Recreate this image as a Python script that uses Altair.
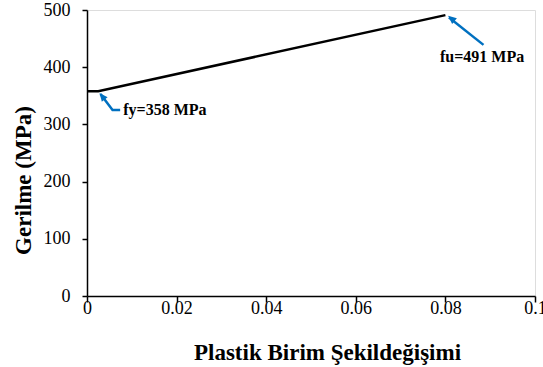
import altair as alt
import pandas as pd

# main curve
strain = [0, 0.0025, 0.08]
stress = [358, 358, 491]

# tick values
x_ticks = [0, 0.02, 0.04, 0.06, 0.08, 0.1]
y_ticks = [0, 100, 200, 300, 400, 500]

# annotations (data coordinates)
ann_text = ["fy=358 MPa", "fu=491 MPa"]
ann_x = [0.0081, 0.0882]
ann_y = [325, 418]
ann_align = ["left", "center"]

fy_arrow_x = [0.0074, 0.0057, 0.0030]
fy_arrow_y = [325, 325, 353]
fu_arrow_x = [0.0885, 0.0808]
fu_arrow_y = [439, 487]
head_x = [0.0028, 0.0806]
head_y = [355, 490]
head_angle = [322, 310]

BLUE = "#0070C0"
FONT = "Liberation Serif"

xs = alt.Scale(domain=[0, 0.1], nice=False)
ys = alt.Scale(domain=[0, 500], nice=False)

curve_df = pd.DataFrame({"x": strain, "y": stress})
curve = alt.Chart(curve_df).mark_line(color="black", strokeWidth=2.5).encode(
    x=alt.X("x:Q", scale=xs, title="Plastik Birim Şekildeğişimi",
            axis=alt.Axis(values=x_ticks, format="~g", grid=False,
                          domainColor="black", domainWidth=1.5,
                          tickColor="black", tickWidth=1.5, tickSize=6,
                          labelFont=FONT, labelFontSize=18, labelColor="black",
                          labelBaseline="alphabetic", labelPadding=11,
                          labelFlush=False,
                          titleFont=FONT, titleFontSize=23, titleFontWeight="bold",
                          titleColor="black", titleBaseline="alphabetic",
                          titleX=240, titleY=63)),
    y=alt.Y("y:Q", scale=ys, title="Gerilme (MPa)",
            axis=alt.Axis(values=y_ticks, grid=False,
                          domainColor="black", domainWidth=1.5,
                          tickColor="black", tickWidth=1.5, tickSize=5,
                          labelFont=FONT, labelFontSize=18, labelColor="black",
                          labelPadding=12,
                          titleFont=FONT, titleFontSize=23, titleFontWeight="bold",
                          titleColor="black", titleX=-64, titleY=170,
                          titleBaseline="middle", titleAlign="center")),
    order=alt.Order("x:Q"),
)

fy_df = pd.DataFrame({"x": fy_arrow_x, "y": fy_arrow_y, "o": [0, 1, 2]})
fy_line = alt.Chart(fy_df).mark_line(color=BLUE, strokeWidth=2.5).encode(
    x=alt.X("x:Q", scale=xs), y=alt.Y("y:Q", scale=ys), order="o:Q")

fu_df = pd.DataFrame({"x": fu_arrow_x, "y": fu_arrow_y, "o": [0, 1]})
fu_line = alt.Chart(fu_df).mark_line(color=BLUE, strokeWidth=2.5).encode(
    x=alt.X("x:Q", scale=xs), y=alt.Y("y:Q", scale=ys), order="o:Q")

head_df = pd.DataFrame({"x": head_x, "y": head_y, "a": head_angle})
heads = alt.Chart(head_df).mark_point(
    shape="M0,0 L-0.7,1.6 L0.7,1.6 Z", filled=True, color=BLUE, opacity=1,
    size=110, strokeWidth=0
).encode(
    x=alt.X("x:Q", scale=xs), y=alt.Y("y:Q", scale=ys),
    angle=alt.Angle("a:Q", scale=None),
)

text_df = pd.DataFrame({"x": ann_x, "y": ann_y, "t": ann_text, "al": ann_align})
texts = alt.layer(*[
    alt.Chart(text_df.iloc[[i]]).mark_text(
        font=FONT, fontSize=16, fontWeight="bold", color="black",
        align=ann_align[i], baseline="middle"
    ).encode(x=alt.X("x:Q", scale=xs), y=alt.Y("y:Q", scale=ys), text="t:N")
    for i in range(len(ann_text))
])

chart = alt.layer(curve, fy_line, fu_line, heads, texts).properties(
    width=448, height=286,
    autosize=alt.AutoSizeParams(type="none"),
    padding={"left": 87, "top": 10, "right": 8, "bottom": 71},
).configure_view(stroke=None).configure(background="white")

chart.save("out.html", embed_options={"renderer": "svg", "actions": False})
